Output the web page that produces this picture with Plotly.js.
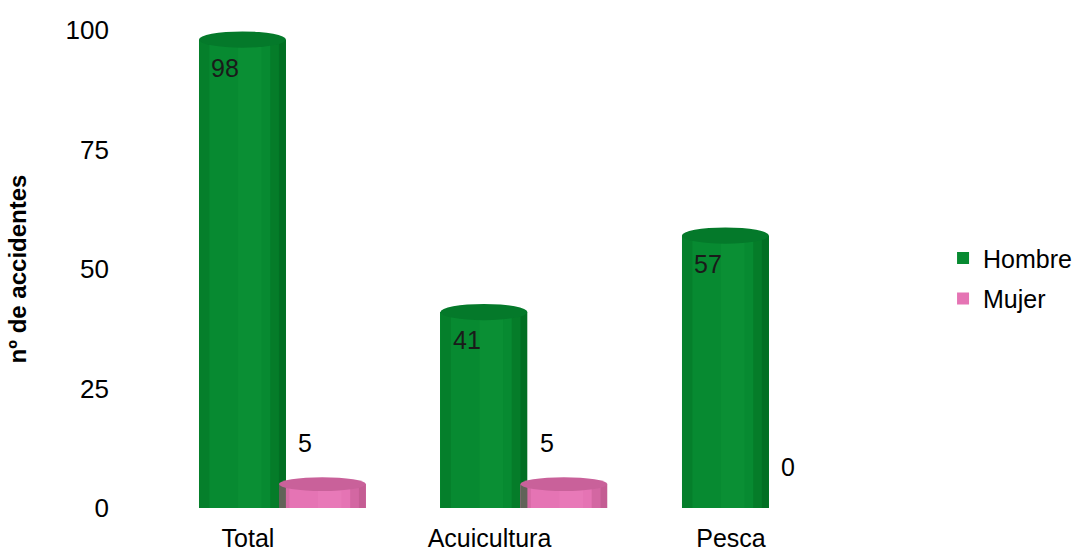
<!DOCTYPE html>
<html><head><meta charset="utf-8">
<script src="https://cdn.plot.ly/plotly-3.0.1.min.js"></script>
<style>html,body{margin:0;padding:0;background:#fff}#chart{width:1079px;height:553px}</style>
</head><body><div id="chart"></div>
<script>
const categories = ["Total", "Acuicultura", "Pesca"];
const hombre = [98, 41, 57];
const mujer = [5, 5, 0];
const yTicks = [0, 25, 50, 75, 100];

const catPos = categories.map((c, i) => i);
const W = 0.36;          // bar width (category units)
const offH = -0.203;     // green offset
const offM = 0.128;      // pink offset
const font = "Liberation Sans, Arial, sans-serif";

const greens = {main:"#078a31", top:"#04792a", dark:"#02661f", light:"#139a3c"};
const pinks = {main:"#e574b4", top:"#c9619a", dark:"#b85588", light:"#ef84c2"};

const traces = [
  {type:"bar", name:"Hombre", x:catPos, y:hombre, width:W, offset:offH,
   marker:{color:greens.main, line:{width:0}}, legendgroup:"h", hoverinfo:"y"},
  {type:"bar", name:"Mujer", x:catPos, y:mujer, width:W, offset:offM,
   marker:{color:pinks.main, line:{width:0}}, legendgroup:"m", hoverinfo:"y"}
];

const shapes = [];
function cyl(vals, off, col, eh) {
  vals.forEach((v, i) => {
    if (v <= 0) return;
    const x0 = catPos[i] + off, x1 = x0 + W;
    shapes.push({type:"rect", xref:"x", yref:"y", x0:x0, x1:x0 + W*0.12, y0:0, y1:v, fillcolor:col.dark, opacity:0.3, line:{width:0}, layer:"above"});
    shapes.push({type:"rect", xref:"x", yref:"y", x0:x1 - W*0.18, x1:x1 - W*0.08, y0:0, y1:v, fillcolor:col.dark, opacity:0.4, line:{width:0}, layer:"above"});
    shapes.push({type:"rect", xref:"x", yref:"y", x0:x1 - W*0.08, x1:x1, y0:0, y1:v, fillcolor:col.dark, opacity:0.75, line:{width:0}, layer:"above"});
    shapes.push({type:"rect", xref:"x", yref:"y", x0:x0 + W*0.45, x1:x0 + W*0.72, y0:0, y1:v, fillcolor:col.light, opacity:0.3, line:{width:0}, layer:"above"});
    shapes.push({type:"circle", xref:"x", yref:"y", x0:x0, x1:x1, y0:v - eh, y1:v + eh, fillcolor:col.top, line:{width:0}, layer:"above"});
  });
}
cyl(hombre, offH, greens, 1.7);
cyl(mujer, offM, pinks, 1.45);

const annotations = [];
hombre.forEach((v, i) => annotations.push({x:catPos[i] + offH + W/2, y:v, xref:"x", yref:"y", text:String(v), showarrow:false,
  xshift:-17, yshift:-28, font:{family:font, size:25, color:"#1a1a1a"}}));
mujer.forEach((v, i) => annotations.push({x:catPos[i] + offM + W/2, y:v, xref:"x", yref:"y", text:String(v), showarrow:false,
  xshift:-17, yshift:41, font:{family:font, size:25, color:"#000"}}));

const layout = {
  width:1079, height:553,
  margin:{l:120, r:179, t:30, b:45},
  paper_bgcolor:"#fff", plot_bgcolor:"#fff",
  font:{family:font, size:26, color:"#000"},
  bargap:0, barmode:"group",
  xaxis:{range:[-0.53, 2.70], tickvals:catPos, ticktext:categories, showgrid:false, zeroline:false, automargin:false,
         showline:false, ticks:"", ticklabelstandoff:13, tickfont:{family:font, size:25}, fixedrange:true},
  yaxis:{range:[0, 100], tickvals:yTicks, showgrid:false, zeroline:false, showline:false, ticks:"", automargin:false,
         ticklabelstandoff:10, tickfont:{family:font, size:26},
         title:{text:"nº de accidentes", font:{family:font, size:24, color:"#000", weight:"bold"}, standoff:32}},
  legend:{xref:"container", yref:"container", x:0.874, xanchor:"left", y:0.497, yanchor:"middle", font:{family:font, size:25},
          traceorder:"grouped", tracegroupgap:5, bgcolor:"rgba(0,0,0,0)"},
  shapes:shapes, annotations:annotations, showlegend:true
};
Plotly.newPlot("chart", traces, layout, {displayModeBar:false, staticPlot:true});
</script></body></html>
